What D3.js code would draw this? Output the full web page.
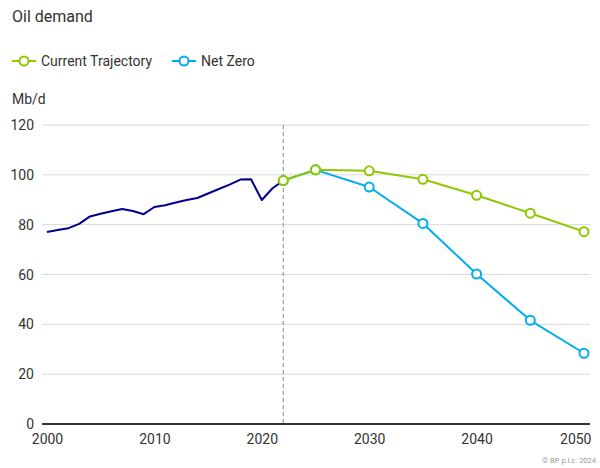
<!DOCTYPE html>
<html><head><meta charset="utf-8">
<script src="https://cdn.jsdelivr.net/npm/d3@7"></script>
<style>body{margin:0;background:#fff;font-family:Roboto,"Noto Sans",sans-serif;}</style>
</head><body><svg id="c" width="600" height="468"></svg>
<script>
const histYears = [2000,2001,2002,2003,2004,2005,2006,2007,2008,2009,2010,2011,2012,2013,2014,2015,2016,2017,2018,2019,2020,2021,2022];
const histValues = [77.1,77.9,78.6,80.3,83.3,84.4,85.4,86.3,85.5,84.2,87.1,87.8,88.9,89.9,90.7,92.5,94.3,96.1,98.1,98.2,89.9,94.6,97.7];
const projYears = [2022,2025,2030,2035,2040,2045,2050];
const currentTrajectory = [97.7,102.0,101.6,98.2,91.8,84.6,77.2];
const netZero = [97.7,102.0,95.1,80.5,60.2,41.6,28.4];
const yTicks = [0,20,40,60,80,100,120];
const xTicks = [2000,2010,2020,2030,2040,2050];
const seriesNames = ["Current Trajectory","Net Zero"];
const colors = {hist:"#00008f", ct:"#8fc800", nz:"#00adef", text:"#333333", grid:"#d9d9d9"};

const svg = d3.select("#c");
const x = d3.scaleLinear().domain([2000,2050]).range([47,584]);
const y = d3.scaleLinear().domain([0,120]).range([424,125]);

svg.append("text").attr("x",12).attr("y",22).attr("font-size",16).attr("fill",colors.text).text("Oil demand");

// legend
const leg = [{name:seriesNames[0],c:colors.ct,x:12},{name:seriesNames[1],c:colors.nz,x:172}];
leg.forEach(l=>{
  const g = svg.append("g");
  g.append("line").attr("x1",l.x).attr("x2",l.x+24).attr("y1",61).attr("y2",61).attr("stroke",l.c).attr("stroke-width",2);
  g.append("circle").attr("cx",l.x+12).attr("cy",61).attr("r",4.5).attr("fill","#fff").attr("stroke",l.c).attr("stroke-width",2);
  g.append("text").attr("x",l.x+29).attr("y",66).attr("font-size",14).attr("fill",colors.text).text(l.name);
});

svg.append("text").attr("x",12).attr("y",104).attr("font-size",14).attr("fill",colors.text).text("Mb/d");

// grid
svg.append("g").selectAll("line").data(yTicks.filter(d=>d>0)).join("line")
  .attr("x1",42).attr("x2",590).attr("y1",d=>y(d)).attr("y2",d=>y(d))
  .attr("stroke",colors.grid).attr("stroke-width",1);
svg.append("g").selectAll("text").data(yTicks).join("text")
  .attr("x",34).attr("y",d=>y(d)+5).attr("text-anchor","end").attr("font-size",14).attr("fill",colors.text).text(d=>d);

// x axis
const xa = svg.append("g").attr("transform","translate(0,424)")
  .call(d3.axisBottom(x).tickValues(xTicks).tickFormat(d3.format("d")).tickSize(0).tickPadding(10));
xa.select(".domain").remove();
xa.append("line").attr("x1",42).attr("x2",590).attr("stroke",colors.text).attr("stroke-width",2);
xa.selectAll(".tick text").attr("font-size",14).attr("fill",colors.text).attr("font-family","Roboto,sans-serif")
  .attr("text-anchor",d=>d===2050?"end":"middle").attr("dx",d=>d===2050?"7":"0");

// dashed 2022
svg.append("line").attr("x1",x(2022)).attr("x2",x(2022)).attr("y1",125).attr("y2",424)
  .attr("stroke","#888").attr("stroke-width",1).attr("stroke-dasharray","4,3");

const line = d3.line().x(d=>x(d[0])).y(d=>y(d[1]));
function drawSeries(years, vals, c, markers){
  const pts = years.map((yr,i)=>[yr,vals[i]]);
  svg.append("path").datum(pts).attr("d",line).attr("fill","none").attr("stroke",c).attr("stroke-width",2).attr("stroke-linejoin","round");
  if(markers){
    svg.append("g").selectAll("circle").data(pts).join("circle")
      .attr("cx",d=>x(d[0])).attr("cy",d=>y(d[1])).attr("r",4.5).attr("fill","#fff").attr("stroke",c).attr("stroke-width",2);
  }
}
drawSeries(histYears,histValues,colors.hist,false);
drawSeries(projYears,netZero,colors.nz,true);
drawSeries(projYears,currentTrajectory,colors.ct,true);

svg.append("text").attr("x",596).attr("y",463).attr("text-anchor","end").attr("font-size",7.5).attr("fill","#999").text("© BP p.l.c. 2024");
</script></body></html>
